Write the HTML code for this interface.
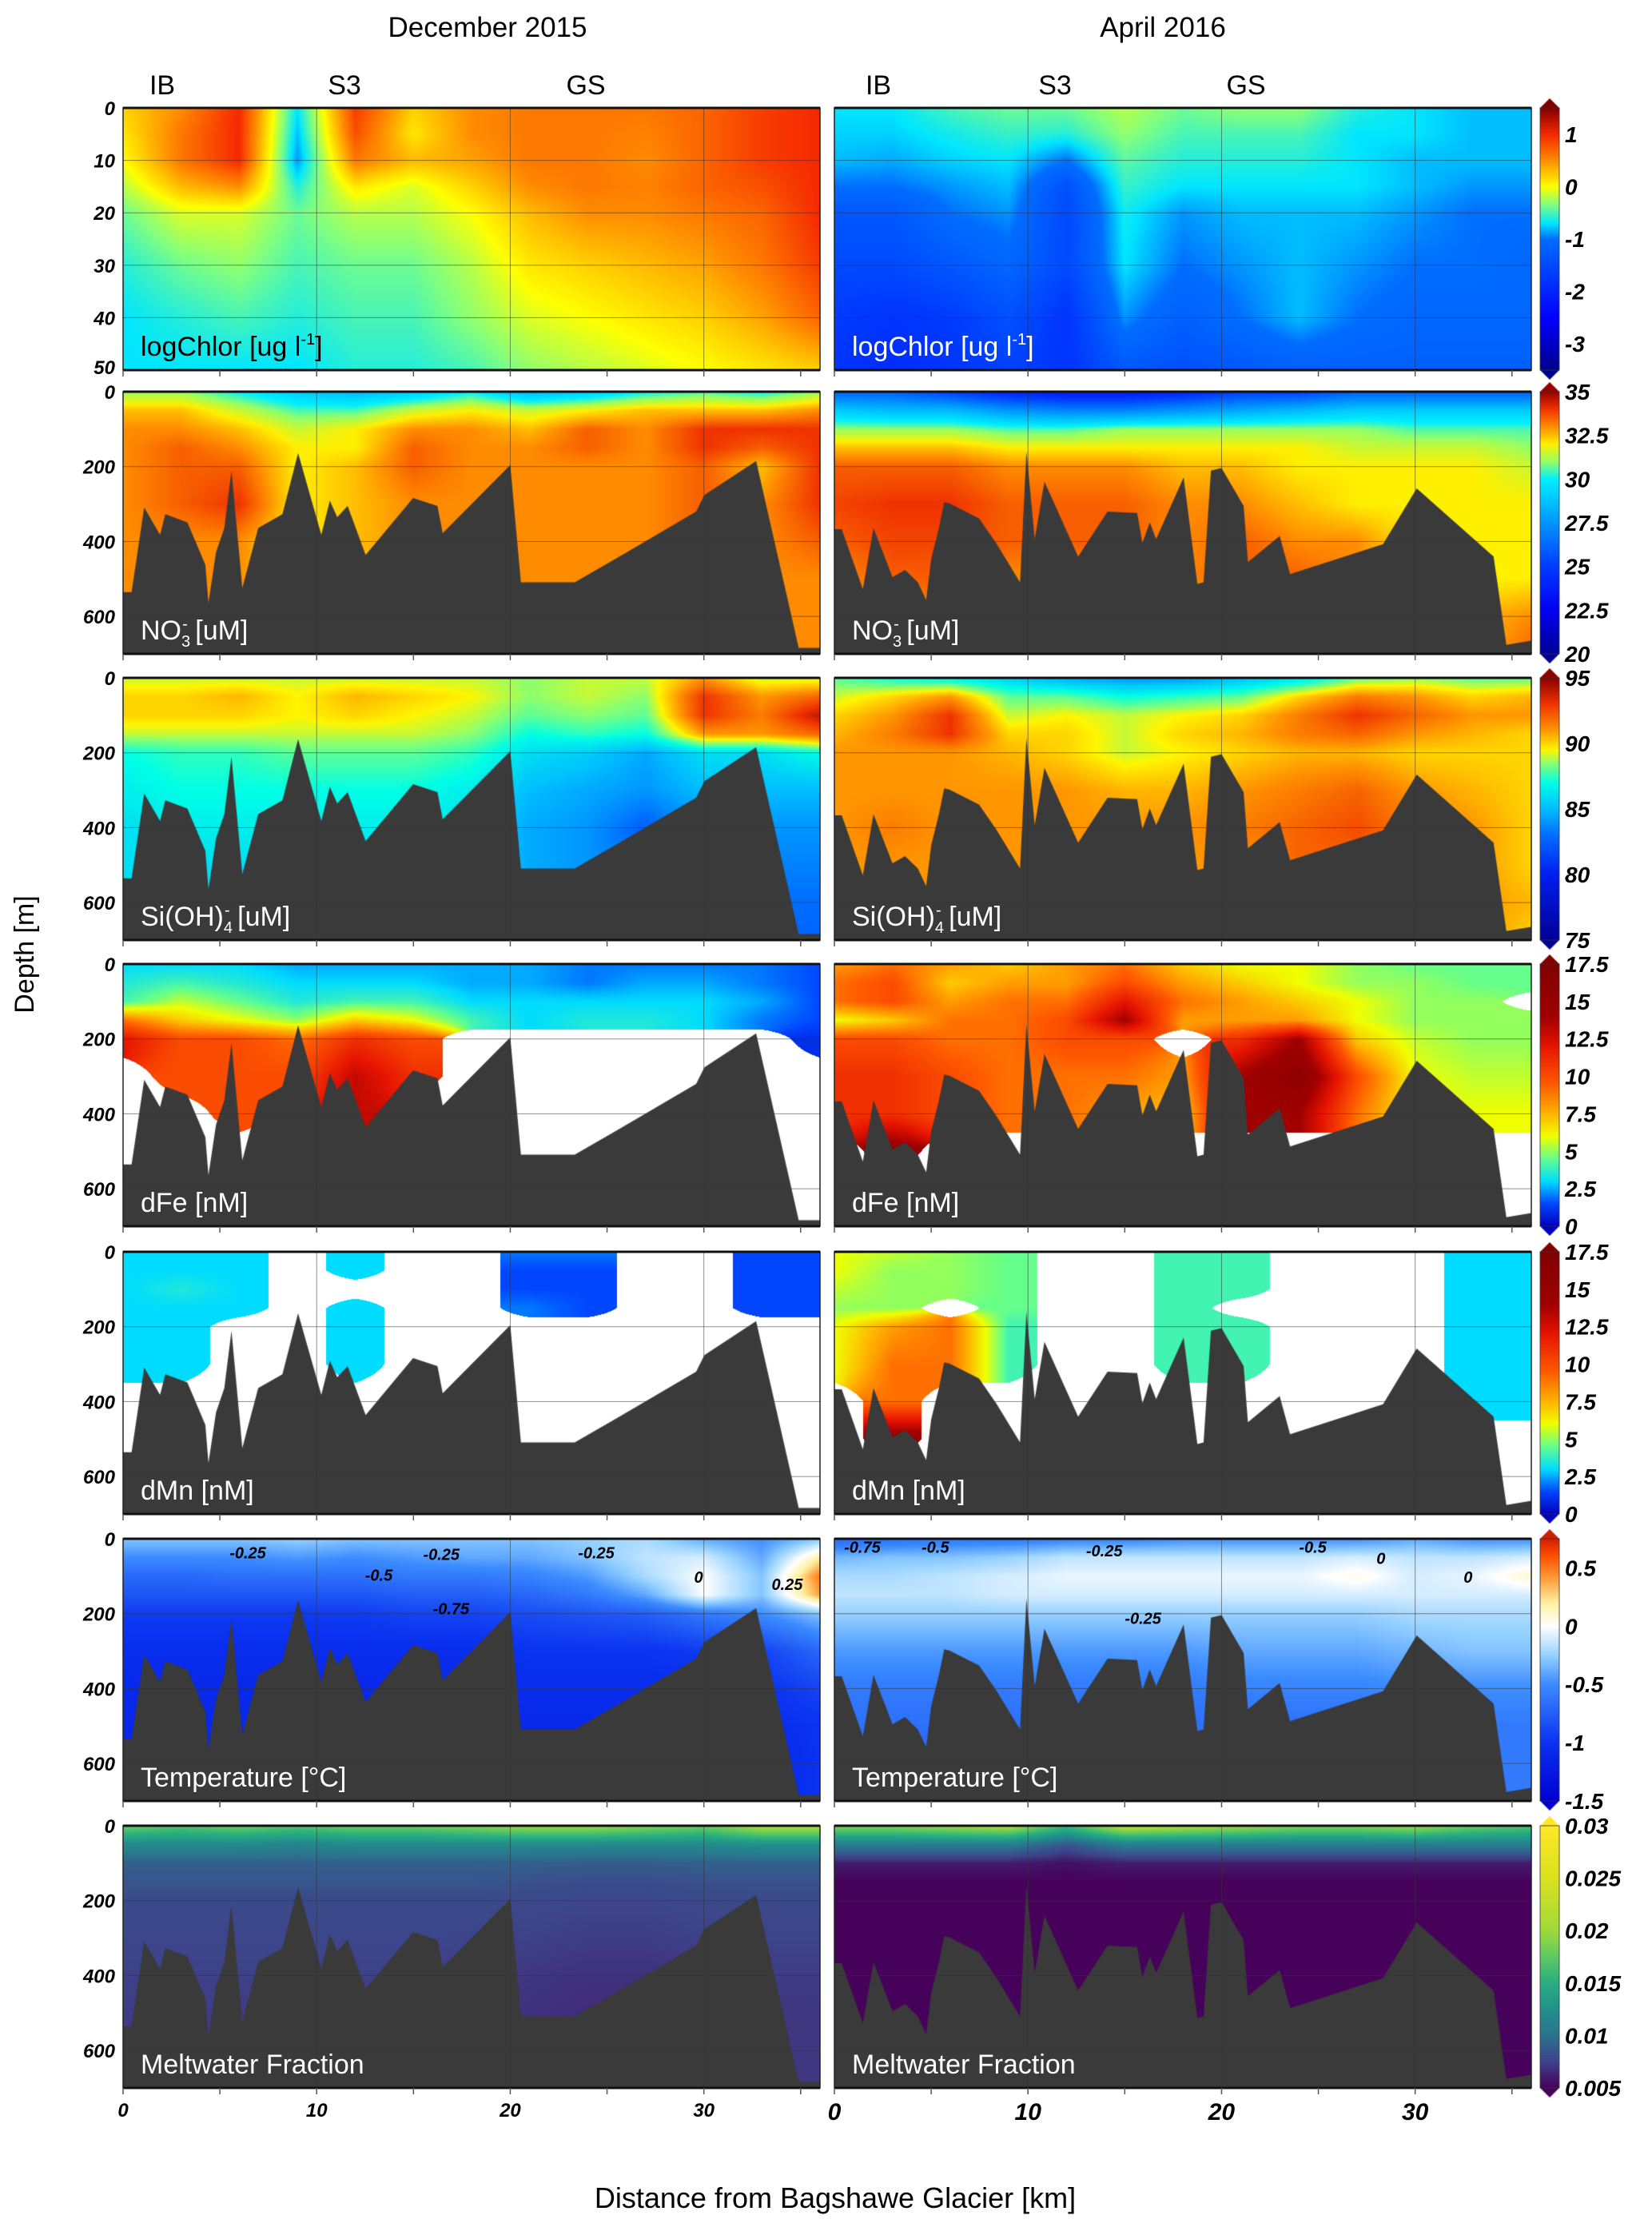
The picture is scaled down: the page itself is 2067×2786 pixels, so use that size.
<!DOCTYPE html>
<html><head><meta charset="utf-8">
<style>
html,body{margin:0;padding:0;background:#fff;}
#wrap{position:relative;width:2067px;height:2786px;overflow:hidden;font-family:"Liberation Sans",sans-serif;}
#cv{position:absolute;left:0;top:0;}
#ov{position:absolute;left:0;top:0;}
</style></head>
<body>
<div id="wrap">
<canvas id="cv" width="2067" height="2786"></canvas>
<svg id="ov" width="2067" height="2786" xmlns="http://www.w3.org/2000/svg">
<g font-family="Liberation Sans, sans-serif" fill="#000">
<text x="610" y="46" font-size="35" text-anchor="middle">December 2015</text>
<text x="1455" y="46" font-size="35" text-anchor="middle">April 2016</text>
<text x="203" y="118" font-size="34" text-anchor="middle">IB</text>
<text x="431" y="118" font-size="34" text-anchor="middle">S3</text>
<text x="733" y="118" font-size="34" text-anchor="middle">GS</text>
<text x="1099" y="118" font-size="34" text-anchor="middle">IB</text>
<text x="1320" y="118" font-size="34" text-anchor="middle">S3</text>
<text x="1559" y="118" font-size="34" text-anchor="middle">GS</text>
<text x="0" y="0" font-size="34" text-anchor="middle" transform="translate(42,1194) rotate(-90)">Depth [m]</text>
<text x="1045" y="2762" font-size="36" text-anchor="middle">Distance from Bagshawe Glacier [km]</text>
</g>
<g id="axes"></g>
</svg>
</div>
<script>
// ---------- data ----------
const xsKm = [0,3,6,9,12,15,18,21,24,27,30,33,36];
const zDeep = [0,50,100,150,200,300,400,500,600,700];
const zChl = [0,5,10,15,20,30,40,50];

const chlDec = [
[0.2,0.1,0,-0.2,-0.4,-0.6,-0.7,-0.7],
[0.5,0.6,0.6,0.3,-0.1,-0.4,-0.6,-0.7],
[1.0,1.0,1.0,0.5,-0.1,-0.3,-0.5,-0.7],
[-0.7,-0.8,-0.9,-0.6,-0.4,-0.5,-0.6,-0.7],
[0.9,0.8,0.6,0.1,-0.2,-0.4,-0.5,-0.6],
[0.2,0.1,0.3,-0.1,-0.2,-0.4,-0.5,-0.6],
[0.5,0.5,0.4,0.2,0.0,-0.2,-0.3,-0.5],
[0.6,0.6,0.6,0.5,0.3,0.1,-0.1,-0.3],
[0.6,0.6,0.6,0.6,0.5,0.2,0.0,-0.2],
[0.6,0.55,0.5,0.55,0.5,0.3,0.1,-0.1],
[0.7,0.7,0.7,0.7,0.6,0.4,0.2,0.0],
[0.9,0.9,0.9,0.8,0.7,0.6,0.4,0.1],
[1.0,1.0,1.0,1.0,1.0,0.9,0.7,0.2]];
const chlApr = [
[-0.7,-0.75,-0.8,-1.0,-1.3,-1.5,-1.7,-1.8],
[-0.7,-0.75,-0.85,-1.0,-1.3,-1.5,-1.8,-1.9],
[-0.5,-0.65,-0.75,-0.9,-1.0,-1.3,-1.7,-1.8],
[-0.4,-0.55,-0.7,-0.8,-0.9,-1.1,-1.4,-1.6],
[-0.4,-0.6,-1.0,-1.4,-1.5,-1.5,-1.8,-1.8],
[-0.2,-0.3,-0.45,-0.55,-0.65,-0.7,-0.9,-1.3],
[-0.4,-0.5,-0.6,-0.7,-0.9,-1.0,-1.2,-1.4],
[-0.3,-0.5,-0.6,-0.7,-0.8,-0.9,-1.0,-1.3],
[-0.3,-0.5,-0.6,-0.7,-0.8,-0.8,-0.8,-1.2],
[-0.6,-0.7,-0.7,-0.7,-0.8,-0.9,-1.0,-1.2],
[-0.7,-0.7,-0.8,-0.8,-0.9,-1.0,-1.1,-1.2],
[-0.8,-0.8,-0.8,-0.9,-1.0,-1.0,-1.1,-1.2],
[-0.8,-0.8,-0.8,-0.9,-1.0,-1.1,-1.1,-1.2]];
const no3Dec = [
[31,32.5,33,33,33,33,33,33,33,33],
[31,32.5,33,33.5,33.5,33.5,33,33,33,33],
[30,31.5,32.5,33,33.5,34,33,33,33,33],
[29,30.5,31.5,32,32,32,32,32,32,32],
[28.5,30.5,32,32,32.5,32.5,32.5,32.5,32.5,32.5],
[29,31.5,33,33.5,33.5,33,33,33,33,33],
[30,32,33,33,33,33,33,33,33,33],
[28.5,31.5,32.5,33,33,33,33,33,33,33],
[29,32,33.5,33.5,33,33,33,33,33,33],
[30,32.5,33,33,33,33,33,33,33,33],
[30.5,32.5,34,34,33.5,33.5,33.5,33.5,33.5,33.5],
[30,32.5,34,33.5,32.5,33,33,33,33,33],
[31,33,34,34,34,34,33.5,33,33,33]];
const no3Apr = [
[26,29,31,32.5,33.5,33.8,33.5,33,33,33],
[26,28.5,31,32.5,33.5,34,33.8,33.5,33,33],
[25,28.5,31,32.5,33.5,34,33.8,33.5,33,33],
[24,27.5,30.5,32,33,33.5,33.5,33,33,33],
[23.5,27,30.5,32,33,33.5,33.5,33,33,33],
[23.5,27,31,32,33,33.5,33.5,33,33,33],
[24,27.5,31,32,32.5,33,33,33,33,33],
[25,28,31,32,32.5,33,33.5,33.5,33,33],
[25,28.5,31,32,32,32.5,33,33.5,33,33],
[26,29,31,31.5,32,32,33,33,33,33],
[26,29,30.5,31.5,32,32,32,32,32,32],
[26,29,30.5,31.5,32,32,32,32,32.5,32.5],
[26,29,30.5,31,31.5,32,32,32,33,33.5]];
const siDec = [
[89,90,90,89,87,86.5,86,86,86,86],
[89,90,90,89,87.5,87,86.5,86,86,86],
[89,90.5,90,89,87.5,87,86.5,86,86,86],
[89,89.5,89.5,89,88,87,86.5,86,86,86],
[89,90.5,90,89,88,87,86.5,86,86,86],
[89,90,89.5,89,88,87,86.5,86,86,86],
[89,89.5,89,88.5,87.5,86.5,86,86,86,86],
[88.5,88.5,88,87,86,85,84.5,84.5,84.5,84.5],
[89,89,88.5,87.5,85.5,84.5,84,84,84,84],
[89,88.5,88,87,84.5,84,82.5,83,83,83],
[91,93,93,91,86,85,84,83,83,83],
[89,91,91.5,91,86,85,84,83.5,83,83],
[89,92,94,92,87,85,84,83.5,83,82.5]];
const siApr = [
[88,89,90,90.5,91,91,91,91,91,91],
[87,90,91,91.5,91,91,91.5,91,91,91],
[86.5,91,93,93,91,91,91,91,91,91],
[85.5,88,89,90,90.5,91,91,91,91,91],
[84.5,88,89.5,90,90,91,91,91,91,91],
[84,87,89,89,89,90.5,91,91,91,91],
[84,87.5,89.5,90,89.5,90.5,91,91,91,91],
[85,88,90,90.5,90,91,91.5,91,91,91],
[86,90,91.5,91.5,90.5,91.5,92,92,91.5,91],
[88,91.5,93,92,90.5,92,92.5,92,91.5,91],
[88.5,91,92,91,90,91,91.5,91,91,91],
[88,90,91,90.5,90,90.5,91,91,91,91],
[88,90.5,91,90,90,90,90,90,90.5,90]];
const feDec = [
[3,3.5,4,9,12,null,null,null,null,null],
[3,4,5.5,7,10,10,null,null,null,null],
[3,3.5,4.5,6,10,10,10,null,null,null],
[2.5,3,3.5,5,9,10,null,null,null,null],
[2.5,3,4,7,11,13,13,null,null,null],
[2.5,3,4,6,10,11,null,null,null,null],
[2.5,2.5,3,4,null,null,null,null,null,null],
[2.5,2.5,3,3,null,null,null,null,null,null],
[2,2,3,3.5,null,null,null,null,null,null],
[2,2.5,3,3.5,null,null,null,null,null,null],
[2,2.5,3,3,null,null,null,null,null,null],
[2,2,2.5,2,null,null,null,null,null,null],
[1.5,1.5,1.5,1.5,1,null,null,null,null,null]];
const feApr = [
[8,9,9,6,10,11,11,null,null,null],
[9,10,10,7,10,11,11,15,null,null],
[8,7,8,9,9,10,10,null,null,null],
[7,8,9,9,9,9,9,null,null,null],
[8,8,9,10,10,9,9,null,null,null],
[9,10,12,14,10,9,8,null,null,null],
[7,8,9,8,null,8,7,null,null,null],
[6,7,8,8,11,14,14,null,null,null],
[6,6,7,8,14,16,14,null,null,null],
[5,5,6,6,7,10,9,null,null,null],
[4.5,5,5,5,5.5,6,6,null,null,null],
[4.5,4.5,5,5,5,5.5,6,null,null,null],
[4.5,4.5,null,5,5,5.5,6,null,null,null]];
const mnDec = [
[3,3,3,3,3,3,null,null,null,null],
[3,3,3.5,3,3,3,null,null,null,null],
[3,3,3,3,null,null,null,null,null,null],
[null,null,null,null,null,null,null,null,null,null],
[3,3,null,3,3,3,null,null,null,null],
[null,null,null,null,null,null,null,null,null,null],
[null,null,null,null,null,null,null,null,null,null],
[2,1.5,1.5,2,null,null,null,null,null,null],
[2,1.5,1.5,1.5,null,null,null,null,null,null],
[null,null,null,null,null,null,null,null,null,null],
[null,null,null,null,null,null,null,null,null,null],
[1.5,1.5,1.5,1.5,null,null,null,null,null,null],
[1.5,1.5,1.5,1.5,null,null,null,null,null,null]];
const mnApr = [
[6,6,5.5,5,6,6,null,null,null,null],
[5.5,5,5,5,8,9,9,15,null,null],
[5,5,5,null,9,9,null,null,null,null],
[4.5,4.5,4.5,4.5,4,4,null,null,null,null],
[null,null,null,null,null,null,null,null,null,null],
[null,null,null,null,null,null,null,null,null,null],
[4,4,4,4,4,4,null,null,null,null],
[4,4,4,null,4,4,null,null,null,null],
[null,null,null,null,null,null,null,null,null,null],
[null,null,null,null,null,null,null,null,null,null],
[null,null,null,null,null,null,null,null,null,null],
[3,3,3,3,3,3,3,null,null,null],
[3,3,3,3,3,3,3,null,null,null]];
const tDec = [
[-0.3,-0.5,-0.7,-0.8,-0.95,-1.05,-1.1,-1.1,-1.1,-1.1],
[-0.3,-0.5,-0.7,-0.8,-0.95,-1.05,-1.1,-1.1,-1.1,-1.1],
[-0.3,-0.5,-0.65,-0.8,-0.95,-1.05,-1.1,-1.1,-1.1,-1.1],
[-0.25,-0.45,-0.65,-0.8,-0.95,-1.05,-1.1,-1.1,-1.1,-1.1],
[-0.3,-0.5,-0.65,-0.8,-0.95,-1.05,-1.1,-1.1,-1.1,-1.1],
[-0.3,-0.45,-0.6,-0.75,-0.9,-1.05,-1.1,-1.1,-1.1,-1.1],
[-0.3,-0.4,-0.6,-0.75,-0.9,-1.05,-1.1,-1.1,-1.1,-1.1],
[-0.3,-0.4,-0.55,-0.7,-0.85,-1.0,-1.05,-1.1,-1.1,-1.1],
[-0.25,-0.3,-0.45,-0.6,-0.8,-1.0,-1.05,-1.1,-1.1,-1.1],
[-0.2,-0.15,-0.2,-0.4,-0.75,-1.0,-1.05,-1.1,-1.1,-1.1],
[-0.4,-0.1,0.0,0.0,-0.6,-0.95,-1.05,-1.1,-1.1,-1.1],
[-0.5,-0.4,-0.3,-0.3,-0.5,-0.9,-1.0,-1.05,-1.1,-1.1],
[-0.3,0.2,0.5,0.4,-0.3,-0.7,-0.9,-1.0,-1.0,-1.0]];
const tApr = [
[-0.7,-0.35,-0.2,-0.15,-0.25,-0.45,-0.6,-0.65,-0.7,-0.7],
[-0.65,-0.3,-0.2,-0.15,-0.25,-0.45,-0.6,-0.65,-0.7,-0.7],
[-0.6,-0.3,-0.15,-0.15,-0.25,-0.45,-0.6,-0.65,-0.7,-0.7],
[-0.6,-0.25,-0.1,-0.1,-0.25,-0.45,-0.6,-0.65,-0.7,-0.7],
[-0.55,-0.15,-0.05,-0.1,-0.25,-0.45,-0.6,-0.65,-0.7,-0.7],
[-0.55,-0.15,-0.05,-0.1,-0.25,-0.45,-0.6,-0.65,-0.7,-0.7],
[-0.5,-0.15,-0.05,-0.1,-0.25,-0.45,-0.6,-0.65,-0.7,-0.7],
[-0.5,-0.15,-0.05,-0.1,-0.25,-0.4,-0.55,-0.65,-0.7,-0.7],
[-0.5,-0.15,-0.05,-0.1,-0.25,-0.4,-0.55,-0.65,-0.7,-0.7],
[-0.5,-0.1,0.05,-0.1,-0.25,-0.4,-0.55,-0.65,-0.7,-0.7],
[-0.4,-0.15,-0.1,-0.1,-0.2,-0.35,-0.5,-0.6,-0.65,-0.65],
[-0.5,-0.15,-0.05,-0.1,-0.2,-0.3,-0.5,-0.6,-0.6,-0.6],
[-0.5,-0.1,0.1,-0.1,-0.2,-0.3,-0.5,-0.6,-0.6,-0.6]];
const mwDec = [
[0.018,0.012,0.009,0.0085,0.0078,0.0076,0.0074,0.0072,0.0072,0.0072],
[0.017,0.012,0.009,0.0085,0.0078,0.0076,0.0074,0.0072,0.0072,0.0072],
[0.018,0.012,0.009,0.0085,0.0078,0.0076,0.0074,0.0072,0.0072,0.0072],
[0.017,0.0115,0.009,0.0085,0.0078,0.0076,0.0074,0.0072,0.0072,0.0072],
[0.018,0.012,0.009,0.0085,0.0078,0.0076,0.0074,0.0072,0.0072,0.0072],
[0.018,0.012,0.009,0.0085,0.0078,0.0076,0.0074,0.0072,0.0072,0.0072],
[0.019,0.012,0.009,0.0085,0.0078,0.0075,0.0072,0.007,0.007,0.007],
[0.02,0.012,0.009,0.0082,0.0077,0.0074,0.007,0.0068,0.0068,0.0068],
[0.02,0.012,0.0088,0.008,0.0076,0.0072,0.0068,0.0066,0.0066,0.0066],
[0.019,0.012,0.0088,0.008,0.0076,0.0072,0.0068,0.0066,0.0066,0.0066],
[0.018,0.012,0.009,0.0082,0.0077,0.0074,0.007,0.0068,0.0068,0.0068],
[0.021,0.0125,0.009,0.0082,0.0078,0.0075,0.0072,0.007,0.007,0.007],
[0.021,0.0125,0.009,0.0082,0.0078,0.0075,0.0072,0.007,0.007,0.007]];
const mwApr = [
[0.019,0.011,0.006,0.005,0.005,0.005,0.005,0.005,0.005,0.005],
[0.019,0.011,0.006,0.005,0.005,0.005,0.005,0.005,0.005,0.005],
[0.02,0.011,0.006,0.005,0.005,0.005,0.005,0.005,0.005,0.005],
[0.021,0.011,0.006,0.005,0.005,0.005,0.005,0.005,0.005,0.005],
[0.016,0.0085,0.0055,0.005,0.005,0.005,0.005,0.005,0.005,0.005],
[0.022,0.011,0.006,0.005,0.005,0.005,0.005,0.005,0.005,0.005],
[0.021,0.011,0.006,0.005,0.005,0.005,0.005,0.005,0.005,0.005],
[0.02,0.011,0.006,0.005,0.005,0.005,0.005,0.005,0.005,0.005],
[0.019,0.011,0.006,0.005,0.005,0.005,0.005,0.005,0.005,0.005],
[0.019,0.011,0.006,0.005,0.005,0.005,0.005,0.005,0.005,0.005],
[0.02,0.011,0.006,0.005,0.005,0.005,0.005,0.005,0.005,0.005],
[0.018,0.011,0.006,0.005,0.005,0.005,0.005,0.005,0.005,0.005],
[0.017,0.011,0.006,0.005,0.005,0.005,0.005,0.005,0.005,0.005]];

const bathyDecKm = [0,0.44,1.09,1.91,2.18,3.32,4.25,4.41,4.8,5.23,5.6,6.16,6.98,8.23,9.04,10.24,10.68,11.06,11.6,12.53,14.98,16.24,16.51,20.0,20.55,23.33,25.78,29.6,30.03,32.7,34.9,36];
const bathyDecDepth = [535,535,309,382,327,349,462,564,429,364,211,524,364,327,164,382,291,335,305,436,284,305,378,196,509,509,436,320,276,185,684,684];
const bathyAprKm = [0,0.38,1.47,2.02,3.0,3.65,4.31,4.74,5.0,5.4,5.67,5.94,7.47,8.39,9.59,9.92,10.35,10.85,12.59,14.11,15.64,15.91,16.29,16.62,18.04,18.75,19.07,19.45,20.0,21.14,21.36,23.0,23.54,28.34,30.08,34.05,34.71,36];
const bathyAprDepth = [367,367,527,364,495,476,509,556,447,364,295,298,338,407,509,160,393,240,440,320,324,404,349,393,229,513,509,211,204,305,455,385,487,407,258,440,676,665];

const chlTicks = [1,0,-1,-2,-3];
const no3Ticks = [35,32.5,30,27.5,25,22.5,20];
const siTicks = [95,90,85,80,75];
const feTicks = [17.5,15,12.5,10,7.5,5,2.5,0];
const tTicks = [0.5,0,-0.5,-1,-1.5];
const mwTicks = [0.03,0.025,0.02,0.015,0.01,0.005];
const depthTicksDeep = [0,200,400,600];
const depthTicksChl = [0,10,20,30,40,50];
const kmTicks = [0,10,20,30];

// ---------- styles / layout ----------
const JET_CHL = [[-3.5,0,0,140],[-2.5,0,0,255],[-1.0,0,110,255],[-0.7,0,230,255],[-0.35,128,255,128],[0,255,255,0],[0.5,255,140,0],[1.0,245,40,0],[1.5,128,0,0]];
const JET_NO3 = [[20,0,0,150],[22.5,0,0,240],[25,0,60,255],[27.5,0,150,255],[30,0,240,255],[31,150,255,100],[32,255,240,0],[33,255,140,0],[34,240,50,0],[35,150,0,0]];
const JET_SI = [[75,0,0,150],[80,0,30,240],[83,0,110,255],[85,0,190,255],[87,0,255,230],[88.5,140,255,110],[89.5,255,245,0],[91,255,150,0],[93,240,50,0],[95,140,0,0]];
const JET_FE = [[0,0,0,190],[1.5,0,70,255],[3,0,220,255],[4.5,100,255,140],[6,240,255,0],[7.5,255,180,0],[9.5,255,90,0],[12,230,20,0],[14,160,0,0],[17.5,128,0,0]];
const BWR = [[-1.5,0,0,210],[-1.0,10,50,240],[-0.5,60,140,255],[-0.25,150,210,255],[0,255,255,255],[0.2,255,240,160],[0.4,255,160,60],[0.6,255,80,0],[0.75,210,30,0]];
const VIR = [[0.005,70,2,90],[0.0075,61,68,138],[0.01,44,114,142],[0.0125,33,145,140],[0.015,40,174,128],[0.0175,94,201,98],[0.02,160,218,57],[0.025,220,225,30],[0.03,253,231,37]];

const COLS = [{x0:154,x1:1026},{x0:1044,x1:1916}];
const ROWS = [135,490,848,1206,1566,1925,2284];
const PH = 328, KMAX = 36;

const panels = [
 {r:0,c:0,g:chlDec,z:zChl,zmax:50,cm:JET_CHL,b:null,label:'chl',lc:'#000'},
 {r:0,c:1,g:chlApr,z:zChl,zmax:50,cm:JET_CHL,b:null,label:'chl',lc:'#fff'},
 {r:1,c:0,g:no3Dec,z:zDeep,zmax:700,cm:JET_NO3,b:0,label:'no3'},
 {r:1,c:1,g:no3Apr,z:zDeep,zmax:700,cm:JET_NO3,b:1,label:'no3'},
 {r:2,c:0,g:siDec,z:zDeep,zmax:700,cm:JET_SI,b:0,label:'si'},
 {r:2,c:1,g:siApr,z:zDeep,zmax:700,cm:JET_SI,b:1,label:'si'},
 {r:3,c:0,g:feDec,z:zDeep,zmax:700,cm:JET_FE,b:0,label:'fe'},
 {r:3,c:1,g:feApr,z:zDeep,zmax:700,cm:JET_FE,b:1,label:'fe'},
 {r:4,c:0,g:mnDec,z:zDeep,zmax:700,cm:JET_FE,b:0,label:'mn'},
 {r:4,c:1,g:mnApr,z:zDeep,zmax:700,cm:JET_FE,b:1,label:'mn'},
 {r:5,c:0,g:tDec,z:zDeep,zmax:700,cm:BWR,b:0,label:'t'},
 {r:5,c:1,g:tApr,z:zDeep,zmax:700,cm:BWR,b:1,label:'t'},
 {r:6,c:0,g:mwDec,z:zDeep,zmax:700,cm:VIR,b:0,label:'mw'},
 {r:6,c:1,g:mwApr,z:zDeep,zmax:700,cm:VIR,b:1,label:'mw'}];

const bars = [
 {r:0,cm:JET_CHL,lo:-3.5,hi:1.5,ticks:chlTicks},
 {r:1,cm:JET_NO3,lo:20,hi:35,ticks:no3Ticks},
 {r:2,cm:JET_SI,lo:75,hi:95,ticks:siTicks},
 {r:3,cm:JET_FE,lo:0,hi:17.5,ticks:feTicks},
 {r:4,cm:JET_FE,lo:0,hi:17.5,ticks:feTicks},
 {r:5,cm:BWR,lo:-1.5,hi:0.75,ticks:tTicks},
 {r:6,cm:VIR,lo:0.005,hi:0.03,ticks:mwTicks}];

function cmap(st,v){
  if(v<=st[0][0]) return [st[0][1],st[0][2],st[0][3]];
  for(let i=1;i<st.length;i++){
    if(v<=st[i][0]){const a=st[i-1],b=st[i],t=(v-a[0])/(b[0]-a[0]);
      return [a[1]+(b[1]-a[1])*t,a[2]+(b[2]-a[2])*t,a[3]+(b[3]-a[3])*t];}
  }
  const l=st[st.length-1];return [l[1],l[2],l[3]];
}
function findIdx(arr,v){for(let i=0;i<arr.length-1;i++){if(v<=arr[i+1])return i;}return arr.length-2;}

const cv=document.getElementById('cv'),ctx=cv.getContext('2d');
ctx.fillStyle='#fff';ctx.fillRect(0,0,2067,2786);

panels.forEach(p=>{
  const X0=COLS[p.c].x0,X1=COLS[p.c].x1,Y0=ROWS[p.r],W=X1-X0,H=PH;
  const img=ctx.createImageData(W,H);
  for(let py=0;py<H;py++){
    const d=(py+0.5)/H*p.zmax, j=findIdx(p.z,d), tz=Math.min(1,Math.max(0,(d-p.z[j])/(p.z[j+1]-p.z[j])));
    for(let px=0;px<W;px++){
      const km=(px+0.5)/W*KMAX, i=findIdx(xsKm,km), tx=Math.min(1,Math.max(0,(km-xsKm[i])/(xsKm[i+1]-xsKm[i])));
      const c00=p.g[i][j],c10=p.g[i+1][j],c01=p.g[i][j+1],c11=p.g[i+1][j+1];
      const arr=[[c00,(1-tx)*(1-tz)],[c10,tx*(1-tz)],[c01,(1-tx)*tz],[c11,tx*tz]];
      let s=0,w=0,wn=0;
      arr.forEach(a=>{if(a[0]!==null){s+=a[0]*a[1];w+=a[1];}else{wn+=a[1];}});
      let col;
      if(wn>=0.5||w===0){col=[255,255,255];}
      else{col=cmap(p.cm,s/w);}
      const k=(py*W+px)*4;img.data[k]=col[0];img.data[k+1]=col[1];img.data[k+2]=col[2];img.data[k+3]=255;
    }
  }
  ctx.putImageData(img,X0,Y0);
  if(p.b!==null){
    const bk=p.b===0?bathyDecKm:bathyAprKm, bd=p.b===0?bathyDecDepth:bathyAprDepth;
    ctx.fillStyle='#3a3a3a';ctx.beginPath();
    ctx.moveTo(X0,Y0+H);
    for(let n=0;n<bk.length;n++){ctx.lineTo(X0+bk[n]/KMAX*W,Y0+bd[n]/p.zmax*H);}
    ctx.lineTo(X1,Y0+H);ctx.closePath();ctx.fill();
  }
});

// colorbars on canvas
bars.forEach(b=>{
  const Y0=ROWS[b.r],x=1927,w=24;
  for(let py=0;py<PH;py++){
    const v=b.hi-(py+0.5)/PH*(b.hi-b.lo),c=cmap(b.cm,v);
    ctx.fillStyle='rgb('+c.map(Math.round).join(',')+')';ctx.fillRect(x,Y0+py,w,1);
  }
  let c=cmap(b.cm,b.hi);ctx.fillStyle='rgb('+c.map(Math.round).join(',')+')';
  ctx.beginPath();ctx.moveTo(x,Y0);ctx.lineTo(x+w/2,Y0-12);ctx.lineTo(x+w,Y0);ctx.fill();
  c=cmap(b.cm,b.lo);ctx.fillStyle='rgb('+c.map(Math.round).join(',')+')';
  ctx.beginPath();ctx.moveTo(x,Y0+PH);ctx.lineTo(x+w/2,Y0+PH+12);ctx.lineTo(x+w,Y0+PH);ctx.fill();
});

// ---------- SVG overlay ----------
const NS='http://www.w3.org/2000/svg', axes=document.getElementById('axes');
function el(tag,attrs,txt){const e=document.createElementNS(NS,tag);for(const k in attrs)e.setAttribute(k,attrs[k]);if(txt!==undefined)e.textContent=txt;axes.appendChild(e);return e;}

const labelHTML={fe:'dFe [nM]',mn:'dMn [nM]',t:'Temperature [\u00B0C]',mw:'Meltwater Fraction'};

panels.forEach(p=>{
  const X0=COLS[p.c].x0,X1=COLS[p.c].x1,Y0=ROWS[p.r],W=X1-X0,H=PH;
  const side=p.c===0?'dec':'apr';
  kmTicks.slice(1).forEach(k=>{
    const gl=el('line',{x1:X0+k/KMAX*W,x2:X0+k/KMAX*W,y1:Y0,y2:Y0+H,stroke:'#333','stroke-width':1,'stroke-opacity':0.55});
    
    
  });
  const dt=p.zmax===50?depthTicksChl:depthTicksDeep;
  dt.forEach(d=>{
    if(d>0&&d<p.zmax){
      const gl=el('line',{x1:X0,x2:X1,y1:Y0+d/p.zmax*H,y2:Y0+d/p.zmax*H,stroke:'#333','stroke-width':1,'stroke-opacity':0.55});
      
      
    }
    if(p.c===0){
      const ty=Math.min(Y0+d/p.zmax*H,Y0+H-4);
      const t=el('text',{x:X0-10,y:ty+9,'font-size':24,'font-weight':'bold','font-style':'italic','text-anchor':'end','font-family':'Liberation Sans, sans-serif'},String(d));
      
      
    }
  });
  const fr=el('rect',{x:X0,y:Y0,width:W,height:H,fill:'none',stroke:'#222','stroke-width':1.5});
  
  
  const tb=el('line',{x1:X0,x2:X1,y1:Y0,y2:Y0,stroke:'#111','stroke-width':3});
  
  
  const bb=el('line',{x1:X0,x2:X1,y1:Y0+H,y2:Y0+H,stroke:'#111','stroke-width':3});
  
  
  for(let k=0;k<=35;k+=5){
    const tk=el('line',{x1:X0+k/KMAX*W,x2:X0+k/KMAX*W,y1:Y0+H,y2:Y0+H+8,stroke:'#555','stroke-width':1.5});
    
    
  }
  const lc=p.lc||'#fff', lx=X0+22, ly=Y0+H-18;
  const t=el('text',{x:lx,y:ly,'font-size':34,fill:lc,'font-family':'Liberation Sans, sans-serif'});
  
  
  function span(txt,extra){const s=document.createElementNS(NS,'tspan');for(const k in (extra||{}))s.setAttribute(k,extra[k]);s.textContent=txt;t.appendChild(s);}
  if(p.label==='chl'){span('logChlor [ug l');span('-1',{'font-size':20,dy:-14});span(']',{dy:14});}
  else if(p.label==='no3'){span('NO');span('3',{'font-size':20,dy:9});span('-',{'font-size':20,dy:-22,dx:-10});span(' [uM]',{dy:13});}
  else if(p.label==='si'){span('Si(OH)');span('4',{'font-size':20,dy:9});span('-',{'font-size':20,dy:-22,dx:-10});span(' [uM]',{dy:13});}
  else{span(labelHTML[p.label]);}
});

COLS.forEach((c,ci)=>{
  kmTicks.forEach(k=>{
    const t=el('text',{x:c.x0+k/KMAX*(c.x1-c.x0),y:ci===0?2648:2652,'font-size':ci===0?24:30,'font-weight':'bold','font-style':'italic','text-anchor':'middle','font-family':'Liberation Sans, sans-serif'},String(k));
    
    
  });
});

bars.forEach(b=>{
  const Y0=ROWS[b.r];
  const fr=el('rect',{x:1927,y:Y0,width:24,height:PH,fill:'none',stroke:'#333','stroke-width':0.8});
  
  
  b.ticks.forEach(v=>{
    const y=Y0+(b.hi-v)/(b.hi-b.lo)*PH;
    const t=el('text',{x:1958,y:y+10,'font-size':28,'font-weight':'bold','font-style':'italic','font-family':'Liberation Sans, sans-serif'},String(v));
    
    
  });
});

const contourLabels=[[0,5.5,35,'-0.25'],[0,15.5,40,'-0.25'],[0,23.5,35,'-0.25'],[0,12.5,95,'-0.5'],[0,16,185,'-0.75'],[0,29.5,100,'0'],[0,33.5,120,'0.25'],[1,0.5,20,'-0.75'],[1,4.5,20,'-0.5'],[1,13,30,'-0.25'],[1,24,20,'-0.5'],[1,28,50,'0'],[1,32.5,100,'0'],[1,15,210,'-0.25']];
contourLabels.forEach(cl=>{
  const c=COLS[cl[0]],Y0=ROWS[5];
  const t=el('text',{x:c.x0+cl[1]/KMAX*(c.x1-c.x0),y:Y0+cl[2]/700*PH+8,'font-size':20,'font-weight':'bold','font-style':'italic','font-family':'Liberation Sans, sans-serif'},cl[3]);
  
  
});
</script>
</body></html>
